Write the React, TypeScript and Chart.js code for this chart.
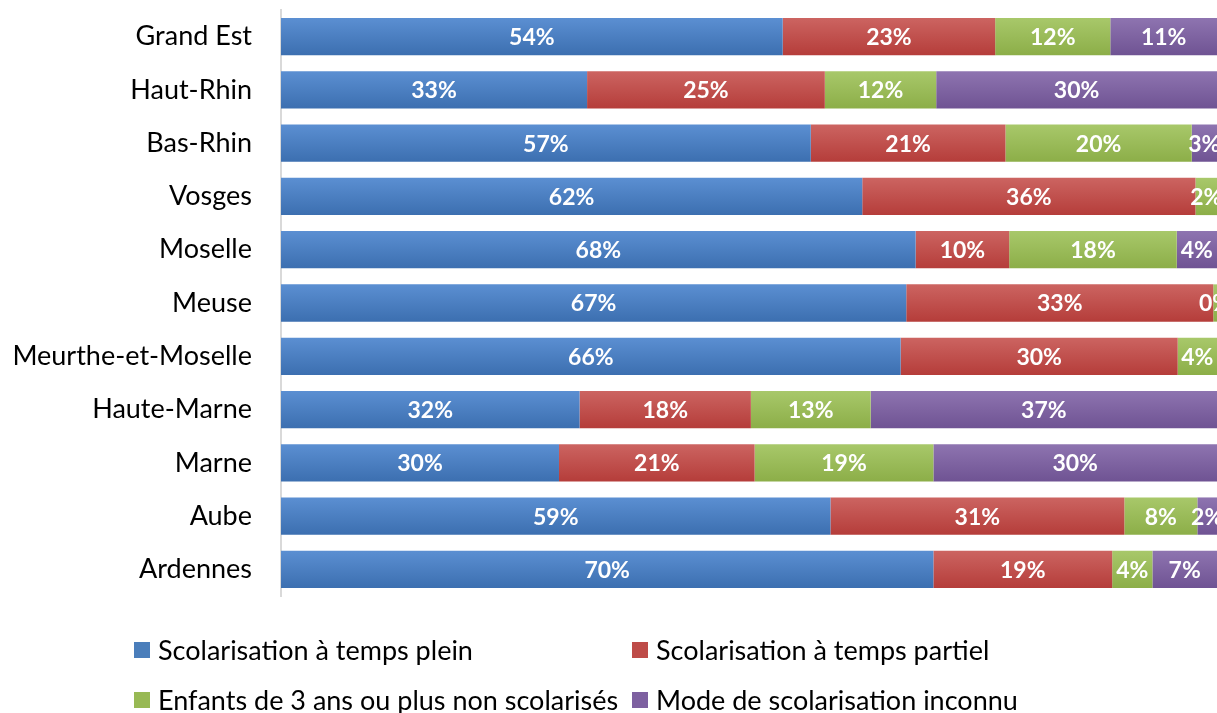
import React, { useEffect, useRef } from "react";
import { Chart, registerables } from "chart.js";

Chart.register(...registerables);

const categories = [
  "Grand Est",
  "Haut-Rhin",
  "Bas-Rhin",
  "Vosges",
  "Moselle",
  "Meuse",
  "Meurthe-et-Moselle",
  "Haute-Marne",
  "Marne",
  "Aube",
  "Ardennes",
];

const seriesNames = [
  "Scolarisation à temps plein",
  "Scolarisation à temps partiel",
  "Enfants de 3 ans ou plus non scolarisés",
  "Mode de scolarisation inconnu",
];

const tempsPlein = [53.6, 32.7, 56.6, 62.1, 67.8, 66.8, 66.2, 31.9, 29.7, 58.7, 69.7];
const tempsPartiel = [22.7, 25.4, 20.8, 35.6, 10.0, 32.8, 29.6, 18.3, 20.9, 31.4, 19.1];
const nonScolarises = [12.3, 11.9, 19.9, 2.3, 17.9, 0.4, 4.2, 12.8, 19.1, 7.8, 4.3];
const inconnu = [11.4, 30.0, 2.7, 0, 4.3, 0, 0, 37.0, 30.3, 2.1, 6.9];

const seriesValues = [tempsPlein, tempsPartiel, nonScolarises, inconnu];

const baseColors = ["#4a7ebb", "#be4b48", "#98b954", "#7d60a0"];
const topColors = ["#5b8fd2", "#cc6461", "#a8c86a", "#8e74b0"];
const bottomColors = ["#3c6fb0", "#b53d3a", "#8cae48", "#6f5393"];

const BAR_FRACTION = 0.7;
const FONT = "Lato, 'Open Sans', sans-serif";

function gradientFor(i: number) {
  return (ctx: any) => {
    const chart = ctx.chart;
    const yScale = chart.scales && chart.scales.y;
    if (!yScale || ctx.dataIndex === undefined || !chart.chartArea) return baseColors[i];
    const yc = yScale.getPixelForValue(ctx.dataIndex);
    const band = (chart.chartArea.bottom - chart.chartArea.top) / categories.length;
    const h = band * BAR_FRACTION;
    const g = chart.ctx.createLinearGradient(0, yc - h / 2, 0, yc + h / 2);
    g.addColorStop(0, topColors[i]);
    g.addColorStop(1, bottomColors[i]);
    return g;
  };
}

const labelsPlugin = {
  id: "segLabels",
  afterDatasetsDraw(chart: any) {
    const ctx = chart.ctx;
    ctx.save();
    ctx.fillStyle = "#ffffff";
    ctx.font = "bold 23px " + FONT;
    ctx.textAlign = "center";
    ctx.textBaseline = "middle";
    chart.data.datasets.forEach((ds: any, di: number) => {
      const meta = chart.getDatasetMeta(di);
      meta.data.forEach((el: any, idx: number) => {
        const v = ds.data[idx];
        if (!v) return;
        const x = (el.x + el.base) / 2;
        ctx.fillText(Math.round(v) + "%", x, el.y + 1);
      });
    });
    ctx.restore();
  },
};

const legendPlugin = {
  id: "gridLegend",
  afterDraw(chart: any) {
    const ctx = chart.ctx;
    ctx.save();
    ctx.font = "27px " + FONT;
    ctx.textBaseline = "middle";
    ctx.textAlign = "left";
    const cols = [134, 632];
    const rows = [650, 700];
    chart.data.datasets.forEach((ds: any, i: number) => {
      const x = cols[i % 2];
      const y = rows[Math.floor(i / 2)];
      ctx.fillStyle = baseColors[i];
      ctx.fillRect(x, y - 8, 16, 16);
      ctx.fillStyle = "#000000";
      ctx.fillText(ds.label, x + 24, y + 1);
    });
    ctx.restore();
  },
};

export default function App() {
  const ref = useRef<HTMLCanvasElement | null>(null);

  useEffect(() => {
    if (!ref.current) return;
    const chart = new Chart(ref.current, {
      type: "bar",
      data: {
        labels: categories,
        datasets: seriesNames.map((name, i) => ({
          label: name,
          data: seriesValues[i],
          backgroundColor: gradientFor(i),
          borderWidth: 0,
          barPercentage: BAR_FRACTION,
          categoryPercentage: 1,
        })),
      },
      options: {
        indexAxis: "y",
        responsive: false,
        animation: false,
        maintainAspectRatio: false,
        layout: { padding: { top: 10, bottom: 117, left: 0, right: 0 } },
        plugins: {
          legend: { display: false },
          tooltip: { enabled: false },
        },
        scales: {
          x: {
            stacked: true,
            min: 0,
            max: 100,
            display: false,
          },
          y: {
            stacked: true,
            grid: { display: false, drawTicks: false },
            border: { display: true, color: "#d9d9d9", width: 2 },
            ticks: {
              color: "#000000",
              padding: 29,
              font: { family: FONT, size: 27 },
            },
            afterFit: (scale: any) => {
              scale.width = 281;
              scale.paddingTop = 0;
              scale.paddingBottom = 0;
            },
          },
        },
      } as any,
      plugins: [labelsPlugin, legendPlugin],
    });
    return () => chart.destroy();
  }, []);

  return (
    <div style={{ position: "fixed", left: 0, top: 0, width: 1217, height: 713, overflow: "hidden", background: "#fff" }}>
      <canvas ref={ref} width={1217} height={713} style={{ width: 1217, height: 713, display: "block" }} />
    </div>
  );
}
